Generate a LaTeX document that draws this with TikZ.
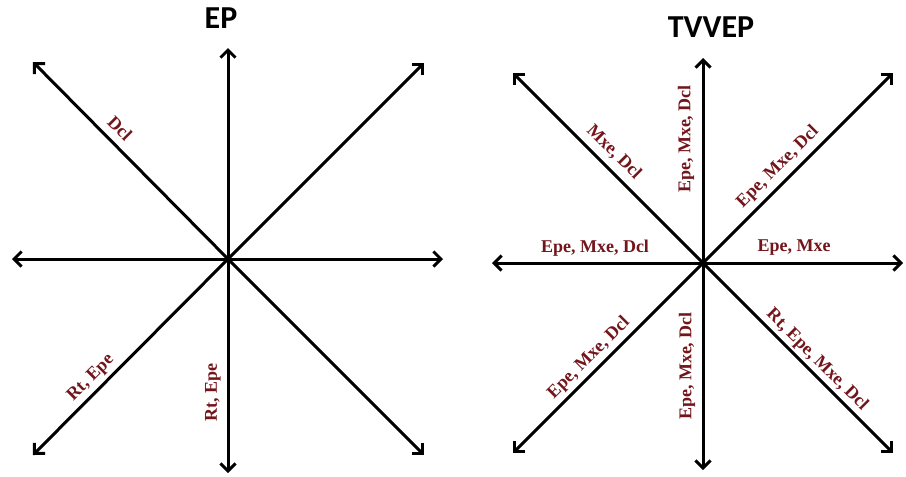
\documentclass[tikz,border=0pt]{standalone}
\usepackage{fontspec}
\setmainfont{Liberation Serif}
\newfontfamily\titlefont{Carlito}
\usetikzlibrary{arrows.meta}
\definecolor{lblred}{RGB}{115,22,28}
\tikzset{
  arr/.style={line width=3pt,-{Straight Barb[length=7.5pt,width=15pt]}},
  lbl/.style={text=lblred,font=\fontsize{18}{18}\selectfont\bfseries,inner sep=0pt},
  ttl/.style={font=\titlefont\bfseries\fontsize{32}{32}\selectfont,inner sep=0pt}
}
\begin{document}
\begin{tikzpicture}[x=1pt,y=-1pt]
\useasboundingbox[fill=white] (0,0) rectangle (906,477);
% left star
\coordinate (c1) at (228,259);
\coordinate (l-n) at (228,48);
\coordinate (l-s) at (228,473);
\coordinate (l-w) at (12,259);
\coordinate (l-e) at (443,259);
\coordinate (l-nw) at (33,62);
\coordinate (l-ne) at (424,63);
\coordinate (l-sw) at (33,455);
\coordinate (l-se) at (424,455);
\foreach \t in {n,s,w,e,nw,ne,sw,se} \draw[arr] (c1) -- (l-\t);
\node[ttl] (t1) at (221,18) {EP};
\node[lbl,rotate=-45] (a1) at (120,128) {Dcl};
\node[lbl,rotate=45] (a2) at (91,378) {Rt, Epe};
\node[lbl,rotate=90] (a3) at (213,392) {Rt, Epe};
% right star
\coordinate (c2) at (703,263);
\coordinate (r-n) at (703,58);
\coordinate (r-s) at (703,470);
\coordinate (r-w) at (492,263);
\coordinate (r-e) at (903,263);
\coordinate (r-nw) at (513,73);
\coordinate (r-ne) at (893,73);
\coordinate (r-sw) at (513,453);
\coordinate (r-se) at (893,453);
\foreach \t in {n,s,w,e,nw,ne,sw,se} \draw[arr] (c2) -- (r-\t);
\node[ttl] (t2) at (711,27) {TVVEP};
\node[lbl,rotate=-45] (b1) at (614,152) {Mxe, Dcl};
\node[lbl,rotate=90] (b2) at (686,139) {Epe, Mxe, Dcl};
\node[lbl,rotate=45] (b3) at (778,167) {Epe, Mxe, Dcl};
\node[lbl] (b4) at (595,248) {Epe, Mxe, Dcl};
\node[lbl] (b5) at (794,248) {Epe, Mxe};
\node[lbl,rotate=45] (b6) at (589,358) {Epe, Mxe, Dcl};
\node[lbl,rotate=90] (b7) at (687,366) {Epe, Mxe, Dcl};
\node[lbl,rotate=-45] (b8) at (817,360) {Rt, Epe, Mxe, Dcl};
\end{tikzpicture}
\end{document}
